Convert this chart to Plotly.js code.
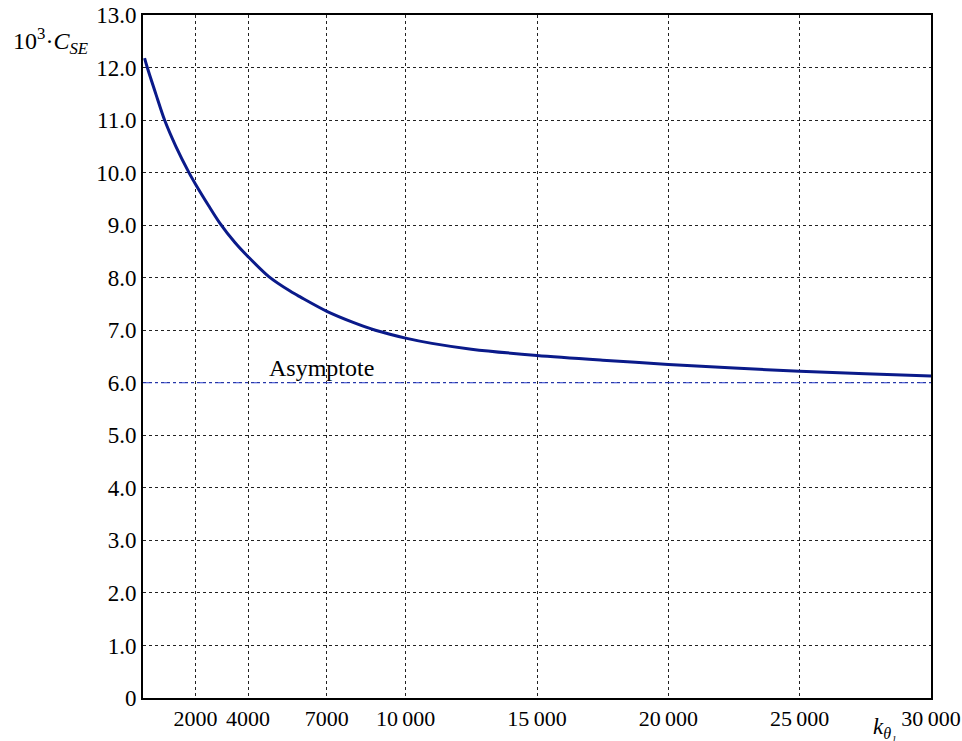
<!DOCTYPE html>
<html>
<head>
<meta charset="utf-8">
<script src="https://cdn.plot.ly/plotly-3.0.1.min.js"></script>
<style>html,body{margin:0;padding:0;background:#fff;}</style>
</head>
<body>
<div id="chart" style="width:962px;height:741px;"></div>
<script>
// Curve data: k_theta1 vs 10^3 * C_SE
const kTheta = [60, 163, 500, 822, 1250, 1750, 2000, 2500, 2925, 3500, 4000, 4790, 5614, 6000, 7000, 8000, 8848, 10000, 11000, 12500, 15000, 17500, 20000, 22500, 25000, 27500, 30000];
const cSE    = [12.18, 12.0, 11.48, 11.0, 10.5, 10.0, 9.78, 9.37, 9.04, 8.67, 8.40, 8.02, 7.74, 7.63, 7.36, 7.15, 7.0, 6.85, 6.75, 6.64, 6.52, 6.43, 6.35, 6.28, 6.22, 6.17, 6.13];
const asymX = [0, 30000];
const asymY = [6.0, 6.0];

const xTickVals = [2000, 4000, 7000, 10000, 15000, 20000, 25000, 30000];
const xTickText = ["2000", "4000", "7000", "10\u2009000", "15\u2009000", "20\u2009000", "25\u2009000", "30\u2009000"];
const yTickVals = [0,1,2,3,4,5,6,7,8,9,10,11,12,13];
const yTickText = ["0","1.0","2.0","3.0","4.0","5.0","6.0","7.0","8.0","9.0","10.0","11.0","12.0","13.0"];

const font = "Liberation Serif, Times New Roman, serif";

const traces = [
  {x: asymX, y: asymY, mode: 'lines', line: {color: '#2a3fd0', width: 1.2, dash: 'dashdot'}, hoverinfo: 'skip'},
  {x: kTheta, y: cSE, mode: 'lines', line: {color: '#0a1a8a', width: 3, shape: 'spline', smoothing: 0.8}}
];

const layout = {
  width: 962, height: 741,
  margin: {l: 143, r: 31, t: 15, b: 43},
  paper_bgcolor: '#fff', plot_bgcolor: '#fff',
  showlegend: false,
  font: {family: font, size: 23, color: '#000'},
  xaxis: {
    range: [0, 30000], tickvals: xTickVals, ticktext: xTickText,
    showgrid: true, gridcolor: '#222', gridwidth: 1, griddash: '3px,3px',
    showline: true, linecolor: '#000', linewidth: 2, mirror: true,
    zeroline: false, ticks: '', tickfont: {family: font, size: 22},
    ticklabeloverflow: 'allow'
  },
  yaxis: {
    range: [0, 13], tickvals: yTickVals, ticktext: yTickText,
    showgrid: true, gridcolor: '#222', gridwidth: 1, griddash: '3px,3px',
    showline: true, linecolor: '#000', linewidth: 2, mirror: true,
    zeroline: false, ticks: '', tickfont: {family: font, size: 23}
  },
  annotations: [
    {text: 'Asymptote', x: 6800, y: 6.0, xref: 'x', yref: 'y', showarrow: false, yanchor: 'bottom', yshift: 0, font: {family: font, size: 24}},
    {text: '10<sup>3</sup>·<i>C<sub>SE</sub></i>', xref: 'paper', yref: 'paper', x: -0.168, y: 0.962, xanchor: 'left', yanchor: 'middle', showarrow: false, font: {family: font, size: 24}},
    {text: '<i>k<sub>θ₁</sub></i>', xref: 'paper', yref: 'paper', x: 0.942, y: -0.044, xanchor: 'center', yanchor: 'middle', showarrow: false, font: {family: font, size: 23}}
  ]
};

Plotly.newPlot('chart', traces, layout, {displayModeBar: false, staticPlot: true});
</script>
</body>
</html>
